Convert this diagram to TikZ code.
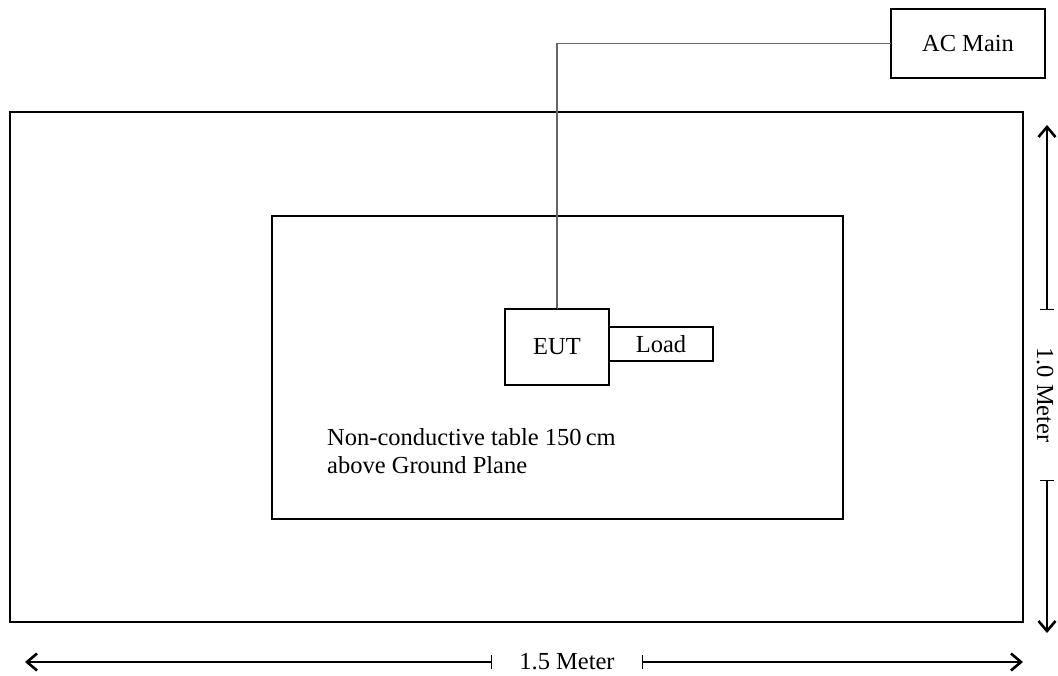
\documentclass[tikz,border=0pt]{standalone}
\usepackage{fontspec}
\setmainfont{Liberation Serif}
\usetikzlibrary{arrows.meta, positioning, calc}

\begin{document}
\begin{tikzpicture}[x=1pt, y=-1pt,
  box/.style={draw, line width=1.5pt, inner sep=0pt, outer sep=0pt,
              font=\fontsize{24.5}{28}\selectfont},
  plane/.style={draw, line width=2.6pt, inner sep=0pt, outer sep=0pt},
  wire/.style={draw=black!60, line width=1.2pt},
  dim/.style={line width=1.4pt, -{Straight Barb[length=10pt, width=17pt, line width=2.6pt]}},
  lbl/.style={font=\fontsize{24.5}{28}\selectfont, inner sep=0pt}
]
  \useasboundingbox (0,0) rectangle (1058,676);

  % ground plane and table
  \node[plane, minimum width=1013pt, minimum height=510pt, anchor=north west] (gp) at (10,112) {};
  \node[box, minimum width=571pt, minimum height=303pt, anchor=north west] (table) at (272,216) {};
  \node[lbl, anchor=north west, align=left] (tbl) at (327,428)
    {Non-conductive table 150\,cm\\above Ground Plane};

  % EUT and load
  \node[box, minimum width=104pt, minimum height=76pt, anchor=north west] (eut) at (505,309) {EUT};
  \node[box, minimum width=104pt, minimum height=34pt, anchor=west] (load) at ([yshift=3pt]eut.east) {Load};

  % AC mains
  \node[box, minimum width=154pt, minimum height=69pt, anchor=north west] (acmain) at (891,9) {AC Main};
  \draw[wire] (acmain.west) -| (eut.north);
  \draw[line width=2pt] ([xshift=15pt]eut.north west) -- (eut.north);

  % 1.0 Meter
  \coordinate (vtop) at (1047,125);
  \coordinate (vbot) at (1047,633);
  \node[lbl, rotate=-90, minimum width=170pt] (vlab) at (1045,395) {1.0 Meter};
  \draw[dim] (vlab.west -| vtop) -- (vtop);
  \draw[dim] (vlab.east -| vbot) -- (vbot);
  \draw[line width=1.2pt] ([xshift=-7pt]vlab.west -| vtop) -- ([xshift=7pt]vlab.west -| vtop);
  \draw[line width=1.2pt] ([xshift=-7pt]vlab.east -| vbot) -- ([xshift=7pt]vlab.east -| vbot);

  % 1.5 Meter
  \node[lbl, minimum width=150pt] (hlab) at (567,662) {1.5 Meter};
  \coordinate (hleft) at (25,662);
  \coordinate (hright) at (1023,662);
  \draw[dim] (hlab.west) -- (hleft);
  \draw[dim] (hlab.east) -- (hright);
  \draw[line width=1.2pt] ([yshift=-7pt]hlab.west) -- ([yshift=7pt]hlab.west);
  \draw[line width=1.2pt] ([yshift=-7pt]hlab.east) -- ([yshift=7pt]hlab.east);
\end{tikzpicture}
\end{document}
